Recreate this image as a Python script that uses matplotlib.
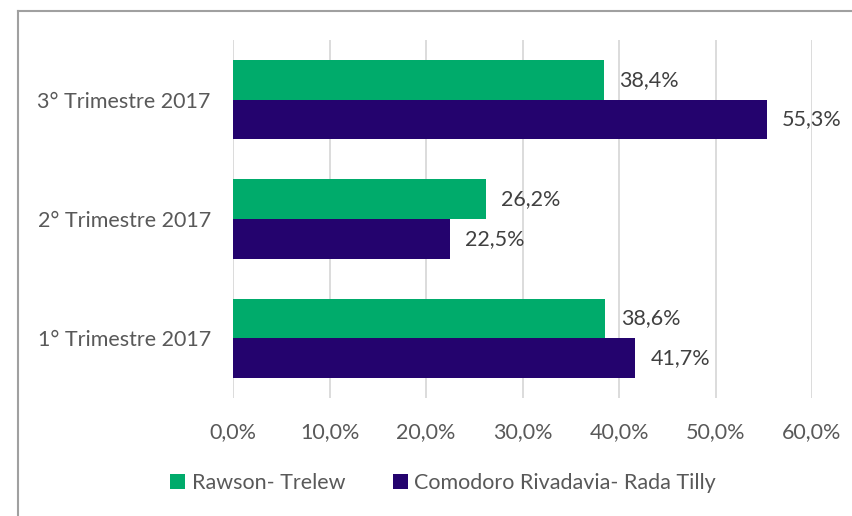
import matplotlib
matplotlib.use("Agg")
import matplotlib.pyplot as plt
from matplotlib.lines import Line2D
import numpy as np

categories = ["1° Trimestre 2017", "2° Trimestre 2017", "3° Trimestre 2017"]
series_names = ["Rawson- Trelew", "Comodoro Rivadavia- Rada Tilly"]
rawson = [38.6, 26.2, 38.4]
comodoro = [41.7, 22.5, 55.3]
xticks = [0, 10, 20, 30, 40, 50, 60]

green = "#00AB6B"
purple = "#24036E"
txt = "#595959"

plt.rcParams['font.family'] = ['Lato', 'DejaVu Sans']
fig = plt.figure(figsize=(8.52, 5.16), dpi=100)
ax = fig.add_axes([233/852, 1-398/516, (812-233)/852, (398-40)/516])

y = np.arange(len(categories))
h = 1/3
b1 = ax.barh(y + h/2, rawson, height=h, color=green, label=series_names[0], zorder=3)
b2 = ax.barh(y - h/2, comodoro, height=h, color=purple, label=series_names[1], zorder=3)

fs = 15.5
for bars, vals in ((b1, rawson), (b2, comodoro)):
    for rect, v in zip(bars, vals):
        ax.annotate(f"{v:.1f}%".replace(".", ","), (v, rect.get_y() + rect.get_height()/2),
                    xytext=(11, 0), textcoords="offset points", va="center", ha="left",
                    fontsize=fs, color="#404040")

ax.set_xlim(0, 60)
ax.set_ylim(-0.5, 2.5)
ax.set_xticks(xticks)
ax.set_xticklabels([f"{t:.1f}%".replace(".", ",") for t in xticks], fontsize=fs, color=txt)
ax.set_yticks(y)
ax.set_yticklabels(categories, fontsize=fs, color=txt)
ax.tick_params(axis='both', length=0)
ax.tick_params(axis='x', pad=17)
ax.tick_params(axis='y', pad=16)
ax.grid(axis='x', color="#D9D9D9", linewidth=1.3, zorder=0)
for s in ax.spines.values():
    s.set_visible(False)

leg = fig.legend(handles=[b1, b2], labels=series_names, loc="center", bbox_to_anchor=(0.52, 1-483/516),
                 ncol=2, frameon=False, fontsize=fs, handlelength=0.7, handleheight=0.7,
                 handletextpad=0.3, columnspacing=2.2, labelcolor=txt)

fig.add_artist(Line2D([18/852, 18/852], [0, 1-11/516], color="#A0A0A0", linewidth=1.5, transform=fig.transFigure))
fig.add_artist(Line2D([18/852, 1], [1-11/516, 1-11/516], color="#A0A0A0", linewidth=1.5, transform=fig.transFigure))

fig.savefig("out.png", dpi=100)
